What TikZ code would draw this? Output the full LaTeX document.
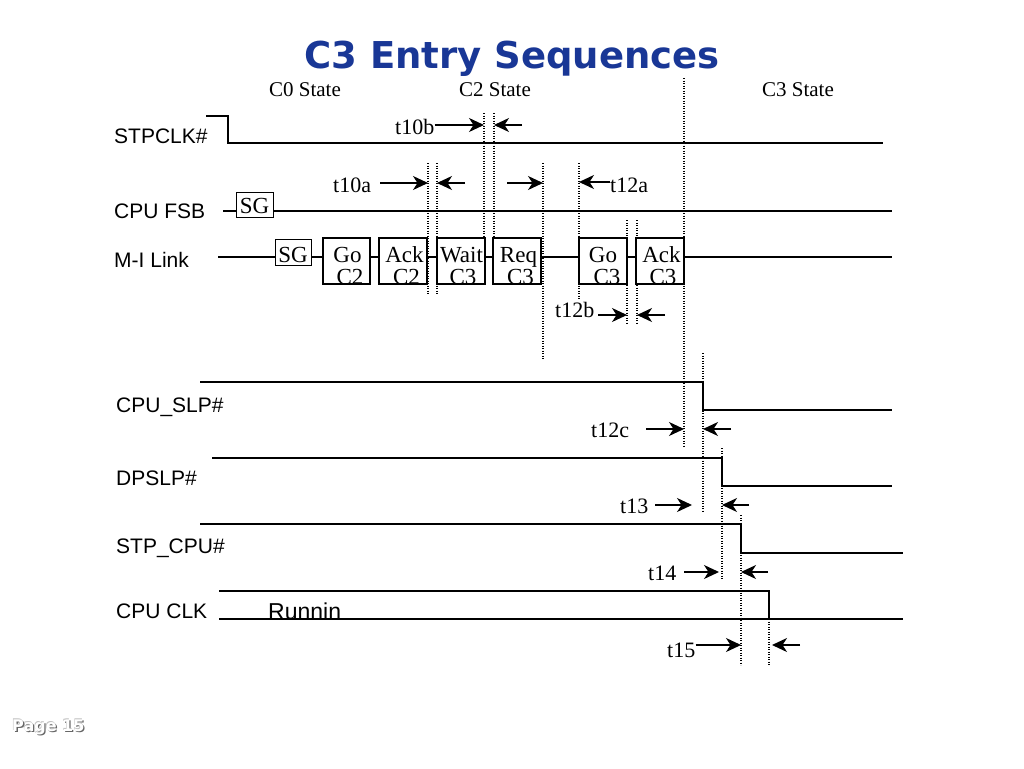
\documentclass[tikz,border=0pt]{standalone}
\usepackage{fontspec}
\setmainfont{Liberation Serif}
\newfontfamily\arialf{Liberation Sans}
\newfontfamily\verdf{DejaVu Sans}
\usetikzlibrary{arrows.meta}
\definecolor{titleblue}{RGB}{25,55,150}
\tikzset{
  sig/.style={line width=1.8pt},
  dotl/.style={line width=1.3pt, dash pattern=on 1.4pt off 1.1pt},
  tarr/.style={-{Stealth[length=15pt,width=14pt,inset=4.5pt]}, line width=1.5pt},
  mibox/.style={draw, line width=1.3pt, fill=white, inner sep=0pt, anchor=north west},
  boxtxt/.style={anchor=base, inner sep=0pt, font=\fontsize{23}{23}\selectfont},
  siglbl/.style={anchor=base west, inner sep=0pt, font=\arialf\fontsize{21}{21}\selectfont},
  tlbl/.style={anchor=base west, inner sep=0pt, font=\fontsize{22}{22}\selectfont},
  stlbl/.style={anchor=base, inner sep=0pt, font=\fontsize{21}{21}\selectfont},
}
\newcommand\miblk[7]{%
  \node[mibox, minimum width={#3-#2}, minimum height=45] (#1) at (#2,238) {};
  \begin{scope}
    \clip (#1.south west) rectangle (#1.north east);
    \node[boxtxt] (#1a) at (#5,262) {#4};
    \node[boxtxt] (#1b) at (#7,284.5) {#6};
  \end{scope}
  \draw[line width=1.3pt] (#1.south west) rectangle (#1.north east);
}
\begin{document}
\begin{tikzpicture}[x=1pt,y=-1pt]
\useasboundingbox (0,0) rectangle (1024,768);
\fill[white] (0,0) rectangle (1024,768);

% title
\node[anchor=base, inner sep=0pt, text=titleblue, font=\verdf\bfseries\fontsize{37}{37}\selectfont] (title) at (512,68) {C3 Entry Sequences};

% state labels
\node[stlbl] (c0) at (305,96) {C0 State};
\node[stlbl] (c2) at (495,96) {C2 State};
\node[stlbl] (c3) at (798,96) {C3 State};

% signal labels
\node[siglbl] (lstp) at (114,143) {STPCLK\#};
\node[siglbl] (lfsb) at (114,218) {CPU FSB};
\node[siglbl] (lmi) at (114,267) {M-I Link};
\node[siglbl] (lslp) at (116,412) {CPU\_SLP\#};
\node[siglbl] (ldps) at (116,485) {DPSLP\#};
\node[siglbl] (lstc) at (116,553) {STP\_CPU\#};
\node[siglbl] (lclk) at (116,618) {CPU CLK};
\node[anchor=base west, inner sep=0pt, font=\arialf\fontsize{23}{23}\selectfont] (run) at (268,619) {Runnin};

% dotted timing lines
\coordinate (d1t) at (428,163); \coordinate (d1b) at (428,294);
\coordinate (d2t) at (437,163); \coordinate (d2b) at (437,294);
\coordinate (d3t) at (484,113); \coordinate (d3b) at (484,240);
\coordinate (d4t) at (494,113); \coordinate (d4b) at (494,240);
\coordinate (d5t) at (543,163); \coordinate (d5b) at (543,360);
\coordinate (d6t) at (579,163); \coordinate (d6b) at (579,300);
\coordinate (d7t) at (627,220); \coordinate (d7b) at (627,323);
\coordinate (d8t) at (637,220); \coordinate (d8b) at (637,323);
\coordinate (d9t) at (684,78);  \coordinate (d9b) at (684,446);
\coordinate (d10t) at (703,353); \coordinate (d10b) at (703,512);
\coordinate (d11t) at (722,448); \coordinate (d11b) at (722,579);
\coordinate (d12t) at (741,515); \coordinate (d12b) at (741,665);
\coordinate (d13t) at (769,619); \coordinate (d13b) at (769,665);
\foreach \i in {1,...,13} { \draw[dotl] (d\i t) -- (d\i b); }

% STPCLK#
\coordinate (s1a) at (206,116); \coordinate (s1b) at (228,116);
\coordinate (s1c) at (228,143); \coordinate (s1d) at (883,143);
\draw[sig] (s1a) -- (s1b) -- (s1c) -- (s1d);

% CPU FSB
\coordinate (f1) at (223,211); \coordinate (f2) at (892,211);
\draw[sig] (f1) -- (f2);
\node[draw, line width=1.3pt, fill=white, inner sep=0pt, anchor=north west, minimum width=37, minimum height=25] (sgf) at (236,192) {};
\node[boxtxt] (sgft) at (254.5,213) {SG};

% M-I Link
\coordinate (m1) at (218,257); \coordinate (m2) at (892,257);
\draw[sig] (m1) -- (m2);
\node[draw, line width=1.3pt, fill=white, inner sep=0pt, anchor=north west, minimum width=36, minimum height=26] (sgm) at (275,239) {};
\node[boxtxt] (sgmt) at (293,262) {SG};
\miblk{goc2}{323}{369}{Go}{347.5}{C2}{350}
\miblk{ackc2}{379}{426}{Ack}{404.5}{C2}{406.5}
\miblk{waitc3}{437}{484}{Wait}{461.5}{C3}{463}
\miblk{reqc3}{493}{540}{Req}{518.5}{C3}{520.5}
\miblk{goc3}{579}{626}{Go}{603}{C3}{607}
\miblk{ackc3}{636}{683}{Ack}{661.5}{C3}{663}

% CPU_SLP#
\coordinate (p1) at (200,382); \coordinate (p2) at (703,382);
\coordinate (p3) at (703,410); \coordinate (p4) at (892,410);
\draw[sig] (p1) -- (p2) -- (p3) -- (p4);
% DPSLP#
\coordinate (q1) at (212,458); \coordinate (q2) at (722,458);
\coordinate (q3) at (722,486); \coordinate (q4) at (892,486);
\draw[sig] (q1) -- (q2) -- (q3) -- (q4);
% STP_CPU#
\coordinate (r1) at (200,524); \coordinate (r2) at (741,524);
\coordinate (r3) at (741,553); \coordinate (r4) at (903,553);
\draw[sig] (r1) -- (r2) -- (r3) -- (r4);
% CPU CLK
\coordinate (k1) at (219,591); \coordinate (k2) at (769,591);
\coordinate (k3) at (769,619); \coordinate (k4) at (219,619);
\coordinate (k5) at (903,619);
\draw[sig] (k1) -- (k2) -- (k3);
\draw[sig] (k4) -- (k5);

% timing labels and arrows
\node[tlbl] (t10b) at (395,134) {t10b};
\draw[tarr] (t10b.east |- 0,125) -- (d3t |- 0,125);
\coordinate (a10bl) at (522,125);
\draw[tarr] (a10bl) -- (d4t |- 0,125);

\node[tlbl] (t10a) at (333,192) {t10a};
\coordinate (a10ar) at (380,183); \coordinate (a10al) at (465,183);
\draw[tarr] (a10ar) -- (d1t |- 0,183);
\draw[tarr] (a10al) -- (d2t |- 0,183);
\coordinate (aanon) at (507,183);
\draw[tarr] (aanon) -- (d5t |- 0,183);

\node[tlbl] (t12a) at (610,192) {t12a};
\draw[tarr] (t12a.west |- 0,182) -- (d6t |- 0,182);

\node[tlbl] (t12b) at (555,317) {t12b};
\coordinate (a12br) at (598,315); \coordinate (a12bl) at (665,315);
\draw[tarr] (a12br) -- (d7t |- 0,315);
\draw[tarr] (a12bl) -- (d8t |- 0,315);

\node[tlbl] (t12c) at (591,437) {t12c};
\coordinate (a12cr) at (646,429); \coordinate (a12cl) at (731,429);
\draw[tarr] (a12cr) -- (d9t |- 0,429);
\draw[tarr] (a12cl) -- (d10t |- 0,429);

\node[tlbl] (t13) at (620,513) {t13};
\coordinate (a13r) at (655,505); \coordinate (a13re) at (692,505);
\coordinate (a13l) at (749,505);
\draw[tarr] (a13r) -- (a13re);
\draw[tarr] (a13l) -- (d11t |- 0,505);

\node[tlbl] (t14) at (648,580) {t14};
\coordinate (a14r) at (684,572); \coordinate (a14re) at (719,572);
\coordinate (a14l) at (768,572);
\draw[tarr] (a14r) -- (a14re);
\draw[tarr] (a14l) -- (d12t |- 0,572);

\node[tlbl] (t15) at (667,657) {t15};
\coordinate (a15l) at (800,645); \coordinate (a15le) at (772,645);
\draw[tarr] (t15.east |- 0,645) -- (d12t |- 0,645);
\draw[tarr] (a15l) -- (a15le);

% page label (embossed)
\node[anchor=base west, inner sep=0pt, text=black!60, font=\verdf\bfseries\fontsize{16}{16}\selectfont] (pgs) at (13.3,732.3) {Page 15};
\node[anchor=base west, inner sep=0pt, text=black!25, font=\verdf\bfseries\fontsize{16}{16}\selectfont] (pgh) at (11.5,730.5) {Page 15};
\node[anchor=base west, inner sep=0pt, text=white, font=\verdf\bfseries\fontsize{16}{16}\selectfont] (pg) at (12,731) {Page 15};
\end{tikzpicture}
\end{document}
